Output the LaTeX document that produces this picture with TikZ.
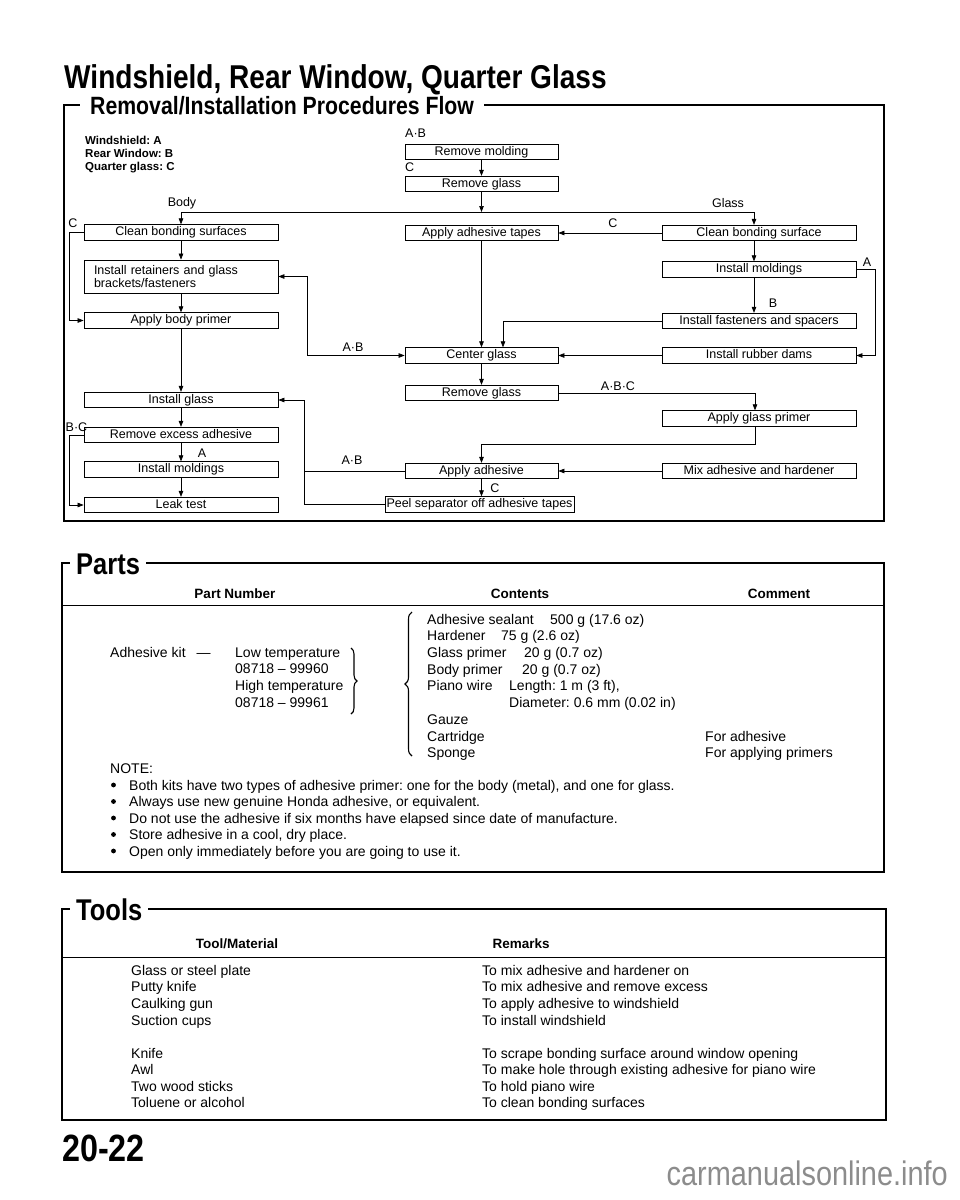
\documentclass[tikz,border=0pt]{standalone}
\usepackage{fontspec}
\setmainfont{Liberation Sans}
\newfontfamily\headfont[FakeStretch=0.85]{Liberation Sans}
\usetikzlibrary{arrows.meta, decorations.pathreplacing, positioning, calc}

\newcommand\flowfont{\fontsize{12.5}{13.6}\selectfont}
\newcommand\bodyfont{\fontsize{14}{16.7}\selectfont}
\frenchspacing

\begin{document}
\begin{tikzpicture}[x=1pt, y=-1pt, >={Triangle[length=6pt,width=4.5pt]},
  flowbox/.style={draw, line width=0.75pt, inner sep=0pt, minimum height=15.5pt,
    text height=9pt, text depth=2.5pt, font=\flowfont},
  wbox/.style={flowbox, minimum width=194pt},
  mbox/.style={flowbox, minimum width=153pt},
  flow/.style={->, line width=0.7pt},
  tag/.style={inner sep=0pt, font=\flowfont},
  frame/.style={line width=1.3pt},
  rule/.style={line width=0.9pt},
  head/.style={anchor=base west, fill=white, inner xsep=6pt, inner ysep=1pt,
    font=\headfont\bfseries\fontsize{30}{30}\selectfont},
  txt/.style={anchor=base west, inner sep=0pt, font=\bodyfont},
  colhead/.style={anchor=base, inner sep=0pt, font=\bfseries\fontsize{13.5}{15}\selectfont},
  brace/.style={decorate, line width=1.1pt}]
\useasboundingbox (0,0) rectangle (960,1200);

% Title
\node[anchor=base west, inner sep=0pt, font=\headfont\bfseries\fontsize{33}{33}\selectfont]
  (title) at (64,88) {Windshield, Rear Window, Quarter Glass};

% Frames with their headings
\draw[frame] (64,105) rectangle (884,521);
\node[head, inner xsep=10pt, font=\headfont\bfseries\fontsize{25}{25}\selectfont]
  (hflow) at (80,114) {Removal/Installation Procedures Flow};
\draw[frame] (62,563) rectangle (884,872);
\node[head] (hparts) at (70,574) {Parts};
\draw[frame] (62,909) rectangle (886,1120);
\node[head] (htools) at (70,920) {Tools};

% Legend
\node[anchor=west, inner sep=0pt, align=left, font=\bfseries\fontsize{11.5}{12.6}\selectfont]
  (legend) at (85,154.5) {Windshield: A\\Rear Window: B\\Quarter glass: C};

% Flow boxes, middle column
\node[mbox] (rmold) at (481.5,152) {Remove molding};
\node[mbox] (rglass) at (481.5,184) {Remove glass};
\node[mbox] (tapes) at (481.5,233) {Apply adhesive tapes};
\node[mbox] (center) at (481.5,355.5) {Center glass};
\node[mbox] (rglass2) at (481.5,393) {Remove glass};
\node[mbox] (adhes) at (481.5,471) {Apply adhesive};
\node[flowbox, minimum width=189pt] (peel) at (479.5,504.5) {Peel separator off adhesive tapes};

% Body column
\node[wbox] (cbody) at (181,232.5) {Clean bonding surfaces};
\node[wbox, minimum height=33pt, text width=174pt, inner xsep=10pt, align=left,
  text height={}, text depth={}] (retain) at (181,276.5)
  {Install retainers and glass\\brackets/fasteners};
\node[wbox] (bprimer) at (181,320.5) {Apply body primer};
\node[wbox] (iglass) at (181,400) {Install glass};
\node[wbox] (excess) at (181,435) {Remove excess adhesive};
\node[wbox] (imoldL) at (181,469.5) {Install moldings};
\node[wbox] (leak) at (181,505) {Leak test};

% Glass column
\node[wbox] (cglass) at (759,233) {Clean bonding surface};
\node[wbox] (imoldR) at (759,269.5) {Install moldings};
\node[wbox] (fasten) at (759,321) {Install fasteners and spacers};
\node[wbox] (dams) at (759,355.5) {Install rubber dams};
\node[wbox] (gprimer) at (759,418.5) {Apply glass primer};
\node[wbox] (mix) at (759,471) {Mix adhesive and hardener};

% Branch labels
\node[tag, anchor=west] (tAB1) at (405,133) {A·B};
\node[tag, anchor=west] (tC1) at (405,167) {C};
\node[tag] (tbody) at (182,203) {Body};
\node[tag] (tglass) at (728,203) {Glass};
\node[tag] (tC2) at (73,223) {C};
\node[tag] (tC3) at (613,223) {C};
\node[tag] (tA1) at (867,262) {A};
\node[tag] (tB1) at (773,303) {B};
\node[tag] (tAB2) at (353,347) {A·B};
\node[tag] (tABC) at (618,386) {A·B·C};
\node[tag, anchor=west] (tBC) at (65.5,427) {B·C};
\node[tag] (tA2) at (202,453) {A};
\node[tag] (tAB3) at (352,460) {A·B};
\node[tag] (tC4) at (495,488) {C};

% Connectors
\coordinate (bus) at (481.5,212);
\draw[flow] (rmold) -- (rglass);
\draw[flow] (rglass) -- (bus);
\draw[flow] (bus) -| (cbody);
\draw[flow] (bus) -| ([xshift=-5pt]cglass.north);
\draw[flow] (cbody) -- (retain);
\draw[flow] (retain) -- (bprimer);
\draw[flow] (bprimer) -- (iglass);
\draw[flow] (iglass) -- (excess);
\draw[flow] (excess) -- (imoldL);
\draw[flow] (imoldL) -- (leak);
\draw[flow] (cbody.west) -- ++(-14,0) |- (bprimer.west);
\draw[flow] (excess.west) -- ++(-14,0) |- (leak.west);
\draw[<->, line width=0.7pt] (retain.east) -- ++(29,0) |- (center.west);
\draw[flow] (cglass) -- (tapes);
\draw[flow] (tapes) -- (center);
\draw[flow] ([xshift=-5pt]cglass.south) -- ([xshift=-5pt]imoldR.north);
\draw[flow] ([xshift=-5pt]imoldR.south) -- ([xshift=-5pt]fasten.north);
\draw[flow] (imoldR.east) -- ++(19,0) |- (dams.east);
\draw[flow] (fasten.west) -| ([xshift=21.5pt]center.north);
\draw[flow] (dams) -- (center);
\draw[flow] (center) -- (rglass2);
\draw[flow] (rglass2.east) -| ([xshift=-4pt]gprimer.north);
\draw[flow] ([xshift=-4pt]gprimer.south) -- ++(0,17.5) -| (adhes.north);
\draw[flow] (mix) -- (adhes);
\draw[flow] (adhes.south) -- (adhes.south |- peel.north);
\draw[line width=0.7pt] (adhes.west) -- ++(-100,0);
\draw[flow] (peel.west) -- ++(-80,0) |- (iglass.east);

% Parts table
\node[colhead] (hpart) at (235,598) {Part Number};
\node[colhead] (hcont) at (520,598) {Contents};
\node[colhead] (hcomm) at (779,598.5) {Comment};
\draw[rule] (62,605) -- (884,605);
\node[txt] (kit) at (110,657) {Adhesive kit\hspace{11pt}—};
\foreach \pn [count=\i] in {Low temperature, 08718 – 99960, High temperature, 08718 – 99961}
  \node[txt] (pn\i) at (235,640.3+16.7*\i) {\pn};
\draw[brace, decoration={brace, amplitude=6pt}] (351,648) -- (351,714);
\draw[brace, decoration={brace, amplitude=7pt}] (412,756) -- (412,612);
\foreach \nm/\val/\vx [count=\i] in {Adhesive sealant/500 g (17.6 oz)/550,
    Hardener/75 g (2.6 oz)/501, Glass primer/20 g (0.7 oz)/524,
    Body primer/20 g (0.7 oz)/522, Piano wire/{Length: 1 m (3 ft),}/509}
  {\node[txt] (cn\i) at (427,607.3+16.7*\i) {\nm};
   \node[txt] (cv\i) at (\vx,607.3+16.7*\i) {\val};}
\node[txt] (diam) at (509,707.5) {Diameter: 0.6 mm (0.02 in)};
\node[txt] (gauze) at (427,724.2) {Gauze};
\node[txt] (cart) at (427,741) {Cartridge};
\node[txt] (sponge) at (427,757.7) {Sponge};
\node[txt] (fadh) at (705,741) {For adhesive};
\node[txt] (fprim) at (705,757.7) {For applying primers};
\node[txt] (note) at (110,773.5) {NOTE:};
\foreach \bt [count=\i] in {{Both kits have two types of adhesive primer: one for the body (metal), and one for glass.},
    {Always use new genuine Honda adhesive, or equivalent.},
    Do not use the adhesive if six months have elapsed since date of manufacture.,
    {Store adhesive in a cool, dry place.},
    Open only immediately before you are going to use it.}
  {\node[txt] (nb\i) at (129,773.5+16.5*\i) {\bt};
   \fill (113.5,768.5+16.5*\i) circle (2.4pt);}

% Tools table
\node[colhead] (htool) at (237,948) {Tool/Material};
\node[colhead, anchor=base west] (hrem) at (492.5,948) {Remarks};
\draw[rule] (62,957) -- (886,957);
\foreach \tname/\tuse/\ty [count=\i] in {Glass or steel plate/To mix adhesive and hardener on/975,
    Putty knife/To mix adhesive and remove excess/991.7,
    Caulking gun/To apply adhesive to windshield/1008.3,
    Suction cups/To install windshield/1025,
    Knife/To scrape bonding surface around window opening/1058,
    Awl/To make hole through existing adhesive for piano wire/1074.5,
    Two wood sticks/To hold piano wire/1091,
    Toluene or alcohol/To clean bonding surfaces/1107.7}
  {\node[txt] (tn\i) at (131,\ty) {\tname};
   \node[txt] (tu\i) at (482,\ty) {\tuse};}

% Page number and site mark
\node[anchor=base west, inner sep=0pt, font=\headfont\bfseries\fontsize{38}{38}\selectfont]
  (page) at (62,1161.5) {20-22};
\node[anchor=base east, inner sep=0pt, text=black!45, font=\headfont\fontsize{34}{34}\selectfont]
  (site) at (948,1185) {carmanualsonline.info};
\end{tikzpicture}
\end{document}
